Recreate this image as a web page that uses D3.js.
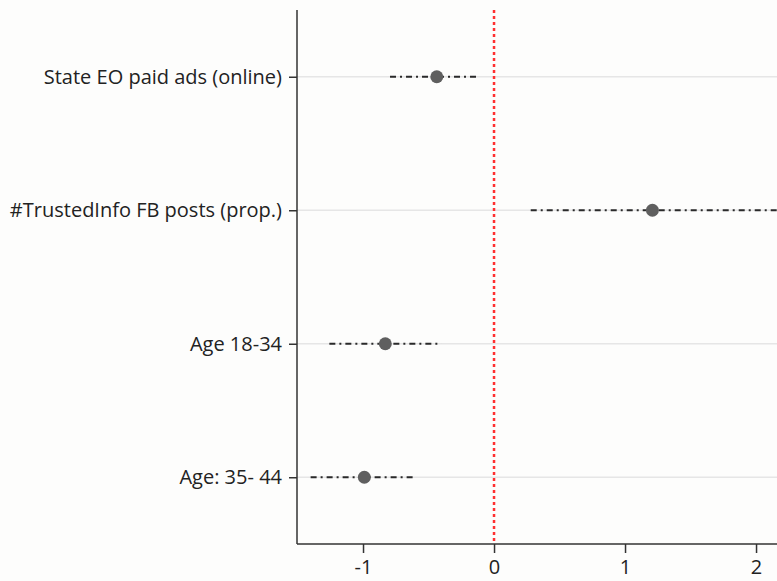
<!DOCTYPE html>
<html><head><meta charset="utf-8">
<script src="https://cdn.jsdelivr.net/npm/d3@7"></script>
<style>
html,body{margin:0;padding:0;background:#fdfdfc;}
svg{display:block;font-family:"Open Sans","Noto Sans",sans-serif;}
</style></head>
<body><svg id="c" width="777" height="581"></svg>
<script>
const categories = ["State EO paid ads (online)", "#TrustedInfo FB posts (prop.)", "Age 18-34", "Age: 35- 44"];
const estimates = [-0.437, 1.209, -0.83, -0.99];
const ciLower = [-0.794, 0.28, -1.257, -1.40];
const ciUpper = [-0.115, 2.2, -0.402, -0.608];
const xTicks = [-1, 0, 1, 2];
const refValue = 0;

(function(){
const svg = d3.select("#c");
const pL = 297, pR = 777, pT = 10, pB = 544;
const x = d3.scaleLinear().domain([-1.504, 2.160]).range([pL, pR]);
const y = d3.scalePoint().domain(categories).range([pT, pB]).padding(0.5);

const data = categories.map((c, i) => ({c, est: estimates[i], lo: ciLower[i], hi: ciUpper[i]}));

svg.append("defs").append("clipPath").attr("id", "clip")
  .append("rect").attr("x", pL).attr("y", pT).attr("width", pR - pL).attr("height", pB - pT);

svg.append("g").selectAll("line").data(categories).join("line")
  .attr("x1", pL).attr("x2", pR)
  .attr("y1", d => y(d)).attr("y2", d => y(d))
  .attr("stroke", "#e6e6e6").attr("stroke-width", 1.5);

svg.append("line")
  .attr("x1", x(refValue)).attr("x2", x(refValue))
  .attr("y1", pT).attr("y2", pB)
  .attr("stroke", "#ff3030").attr("stroke-width", 2.5)
  .attr("stroke-dasharray", "3,3");

const g = svg.append("g").attr("clip-path", "url(#clip)");
g.selectAll("line.ci").data(data).join("line").attr("class", "ci")
  .attr("x1", d => x(d.lo)).attr("x2", d => x(d.hi))
  .attr("y1", d => y(d.c)).attr("y2", d => y(d.c))
  .attr("stroke", "#2a2a2a").attr("stroke-width", 2)
  .attr("stroke-dasharray", "6,4,2,4");

g.selectAll("circle").data(data).join("circle")
  .attr("cx", d => x(d.est)).attr("cy", d => y(d.c)).attr("r", 6.5)
  .attr("fill", "#5f5f5f");

const yAxis = svg.append("g").attr("transform", `translate(${pL},0)`)
  .call(d3.axisLeft(y).tickSize(8).tickPadding(7));
yAxis.select(".domain").attr("d", `M0,${pT}V${pB}`).attr("stroke", "#333").attr("stroke-width", 1.5);
yAxis.selectAll(".tick line").attr("stroke", "#333").attr("stroke-width", 1.5);
yAxis.selectAll(".tick text").attr("font-size", 20).attr("fill", "#222")
  .attr("font-family", "'Open Sans','Noto Sans',sans-serif");

const xAxis = svg.append("g").attr("transform", `translate(0,${pB})`)
  .call(d3.axisBottom(x).tickValues(xTicks).tickFormat(d => String(d)).tickSize(9).tickPadding(7));
xAxis.select(".domain").attr("d", `M${pL},0H${pR}`).attr("stroke", "#333").attr("stroke-width", 1.5);
xAxis.selectAll(".tick line").attr("stroke", "#333").attr("stroke-width", 1.5);
xAxis.selectAll(".tick text").attr("font-size", 20).attr("fill", "#222")
  .attr("font-family", "'Open Sans','Noto Sans',sans-serif");
})();
</script></body></html>
